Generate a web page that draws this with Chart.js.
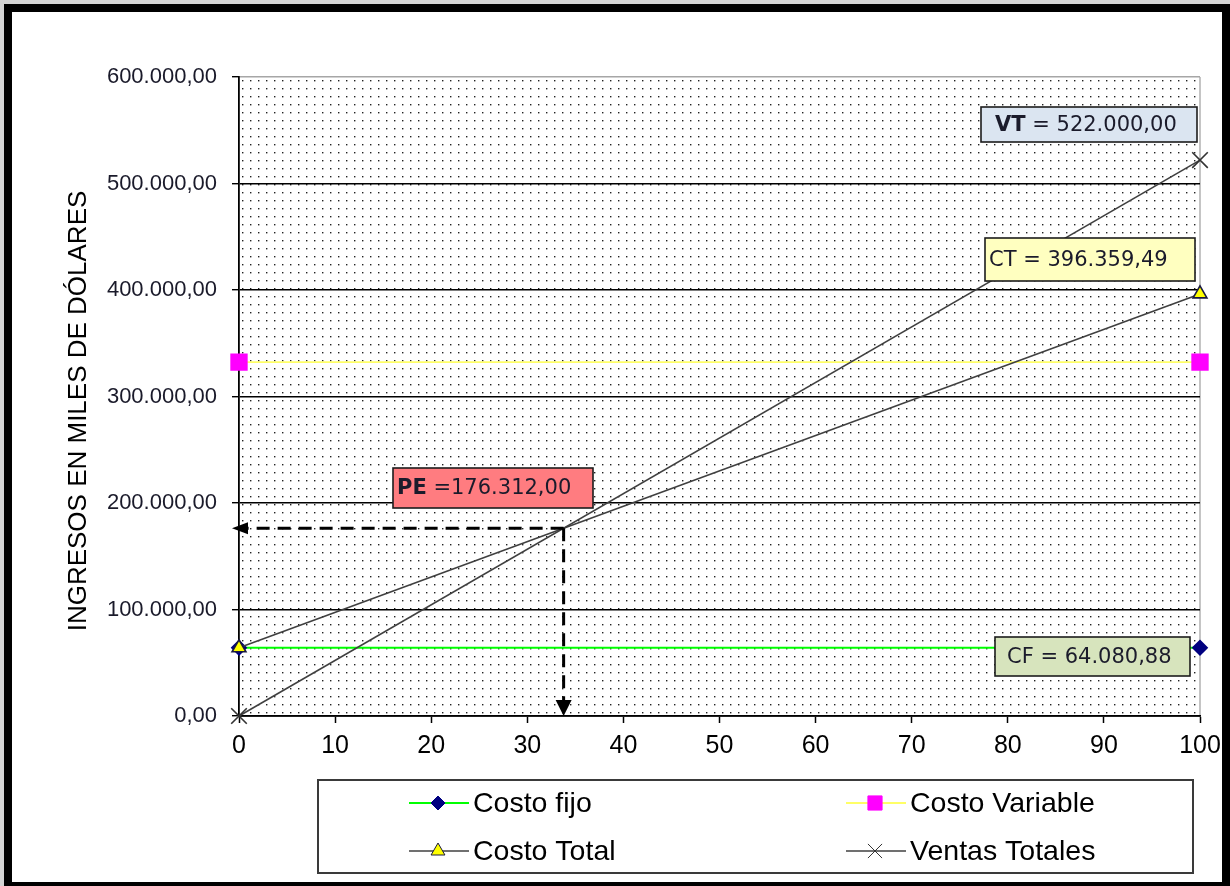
<!DOCTYPE html>
<html>
<head>
<meta charset="utf-8">
<script src="https://cdn.jsdelivr.net/npm/chart.js@4.4.1/dist/chart.umd.min.js"></script>
<style>
  html, body { margin: 0; padding: 0; background: #fff; }
  #wrap { position: relative; width: 1230px; height: 886px; }
</style>
</head>
<body>
<div id="wrap"><canvas id="pe" width="1230" height="886" style="width:1230px;height:886px"></canvas></div>
<script>
// Punto de equilibrio
const unidades = [0, 100]
const costoFijo = [64080.88, 64080.88]
const costoVariable = [332278.61, 332278.61]
const costoTotal = [64080.88, 396359.49]
const ventasTotales = [0, 522000]
const peUnidades = 33.78
const peValor = 176312
const xTicks = [0, 10, 20, 30, 40, 50, 60, 70, 80, 90, 100]
const yTicks = [0, 100000, 200000, 300000, 400000, 500000, 600000]
const yTitle = 'INGRESOS EN MILES DE DÓLARES'

// 600000 -> "600.000,00"
function fmt(v) {
  const [ent, dec] = Number(v).toFixed(2).split('.')
  return ent.replace(/\B(?=(\d{3})+(?!\d))/g, '.') + ',' + dec
}

function toPoints(ys) {
  return unidades.map((x, i) => ({ x, y: ys[i] }))
}

// marker drawing (legend uses the same shapes as the datasets)
function drawMarker(ctx, style, x, y, r, fill, stroke, lw) {
  ctx.save()
  ctx.beginPath()
  if (style === 'rectRot') {
    ctx.moveTo(x - r, y); ctx.lineTo(x, y - r); ctx.lineTo(x + r, y); ctx.lineTo(x, y + r); ctx.closePath()
  } else if (style === 'rect') {
    const s = r * Math.SQRT1_2
    ctx.rect(x - s, y - s, 2 * s, 2 * s)
  } else if (style === 'triangle') {
    for (let k = 0; k < 3; k++) {
      const a = k * 2 * Math.PI / 3
      const px = x + Math.sin(a) * r, py = y - Math.cos(a) * r
      k ? ctx.lineTo(px, py) : ctx.moveTo(px, py)
    }
    ctx.closePath()
  } else if (style === 'crossRot') {
    const s = r * Math.SQRT1_2
    ctx.moveTo(x - s, y - s); ctx.lineTo(x + s, y + s)
    ctx.moveTo(x + s, y - s); ctx.lineTo(x - s, y + s)
  }
  if (style !== 'crossRot') { ctx.fillStyle = fill; ctx.fill() }
  ctx.lineWidth = lw
  ctx.strokeStyle = stroke
  ctx.stroke()
  ctx.restore()
}

// dotted plot background
const tile = document.createElement('canvas')
tile.width = 8
tile.height = 8
const tctx = tile.getContext('2d')
tctx.fillStyle = '#222'
tctx.fillRect(3, 3, 1.4, 1.4)

const backgroundPlugin = {
  id: 'plotBackground',
  beforeDraw(chart) {
    const { ctx, chartArea: a } = chart
    ctx.save()
    ctx.fillStyle = '#fff'
    ctx.fillRect(0, 0, chart.width, chart.height)
    ctx.translate(a.left, a.top)
    ctx.fillStyle = ctx.createPattern(tile, 'repeat')
    ctx.fillRect(0, 0, a.right - a.left, a.bottom - a.top)
    ctx.restore()
    // right border of plot area
    ctx.save()
    ctx.strokeStyle = '#a6a6a6'
    ctx.lineWidth = 1.3
    ctx.beginPath()
    ctx.moveTo(a.right, a.top)
    ctx.lineTo(a.right, a.bottom)
    ctx.stroke()
    ctx.restore()
  },
}

function arrowHead(ctx, x, y, dir, len, half) {
  ctx.beginPath()
  if (dir === 'left') {
    ctx.moveTo(x, y); ctx.lineTo(x + len, y - half); ctx.lineTo(x + len, y + half)
  } else {
    ctx.moveTo(x, y); ctx.lineTo(x - half, y - len); ctx.lineTo(x + half, y - len)
  }
  ctx.closePath()
  ctx.fill()
}

const annotations = [
  { tag: 'VT', bold: true, sep: ' = ', value: ventasTotales[1], box: [981, 107, 216, 35], fill: '#dbe5f1', pad: 14 },
  { tag: 'CT', bold: false, sep: ' = ', value: costoTotal[1], box: [985, 238, 210, 43], fill: '#ffffc0', pad: 4 },
  { tag: 'PE', bold: true, sep: ' =', value: peValor, box: [393, 468, 200, 40], fill: '#ff7c80', pad: 4 },
  { tag: 'CF', bold: false, sep: ' = ', value: costoFijo[0], box: [995, 637, 195, 39], fill: '#d7e4bd', pad: 12 },
]

const overlayPlugin = {
  id: 'peOverlay',
  afterDatasetsDraw(chart) {
    const { ctx, scales: { x, y } } = chart
    const px = x.getPixelForValue(peUnidades)
    const py = y.getPixelForValue(peValor)
    const x0 = x.getPixelForValue(0)
    const y0 = y.getPixelForValue(0)

    // dashed guide lines of the break-even point
    ctx.save()
    ctx.strokeStyle = '#000'
    ctx.fillStyle = '#000'
    ctx.lineWidth = 3
    ctx.setLineDash([13, 8])
    ctx.beginPath()
    ctx.moveTo(px, py)
    ctx.lineTo(x0 + 8, py)
    ctx.moveTo(px, py)
    ctx.lineTo(px, y0 - 12)
    ctx.stroke()
    ctx.setLineDash([])
    arrowHead(ctx, x0 - 7, py, 'left', 16, 6)
    arrowHead(ctx, px, y0, 'down', 16, 8)
    ctx.restore()

    // value boxes
    annotations.forEach(an => {
      const [bx, by, bw, bh] = an.box
      ctx.save()
      ctx.fillStyle = an.fill
      ctx.fillRect(bx, by, bw, bh)
      ctx.strokeStyle = '#1c1c1c'
      ctx.lineWidth = 1.6
      ctx.strokeRect(bx, by, bw, bh)
      ctx.fillStyle = '#1b1b2b'
      ctx.textBaseline = 'middle'
      const ty = by + bh / 2 + 1
      ctx.font = (an.bold ? 'bold ' : '') + '21px "DejaVu Sans", sans-serif'
      ctx.fillText(an.tag, bx + an.pad, ty)
      const w = ctx.measureText(an.tag).width
      ctx.font = '21px "DejaVu Sans", sans-serif'
      ctx.fillText(an.sep + fmt(an.value), bx + an.pad + w, ty)
      ctx.restore()
    })
  },
  afterDraw(chart) {
    const { ctx } = chart

    // y axis title
    ctx.save()
    ctx.translate(79, 411)
    ctx.rotate(-Math.PI / 2)
    ctx.font = '26px "Liberation Sans", Arial, sans-serif'
    ctx.fillStyle = '#000'
    ctx.textAlign = 'center'
    ctx.textBaseline = 'middle'
    ctx.fillText(yTitle, 0, 0)
    ctx.restore()

    // legend
    const lx = 318, ly = 780, lw = 875, lh = 93
    ctx.save()
    ctx.strokeStyle = '#3a3a3a'
    ctx.lineWidth = 2
    ctx.strokeRect(lx, ly, lw, lh)
    const cols = [409, 846]
    const rows = [803, 851]
    chart.data.datasets.forEach((ds, i) => {
      const cx = cols[i % 2]
      const cy = rows[Math.floor(i / 2)]
      ctx.strokeStyle = ds.borderColor
      ctx.lineWidth = ds.borderWidth
      ctx.beginPath()
      ctx.moveTo(cx, cy)
      ctx.lineTo(cx + 60, cy)
      ctx.stroke()
      drawMarker(ctx, ds.pointStyle, cx + 29, cy, ds.legendRadius, ds.pointBackgroundColor, ds.pointBorderColor, 1)
      ctx.fillStyle = '#000'
      ctx.font = '28.5px "Liberation Sans", Arial, sans-serif'
      ctx.textBaseline = 'middle'
      ctx.fillText(ds.label, cx + 64, cy + 1)
    })
    ctx.restore()

    // outer frame
    ctx.save()
    ctx.fillStyle = '#d4d4d4'
    ctx.fillRect(0, 0, 4, chart.height)
    ctx.fillRect(0, 0, chart.width, 4)
    ctx.fillStyle = '#000'
    ctx.fillRect(4, 4, 8, chart.height)
    ctx.fillRect(4, 4, chart.width, 8)
    ctx.fillRect(1222, 4, 8, chart.height)
    ctx.fillRect(4, 882, chart.width, 4)
    ctx.restore()
  },
}

new Chart(document.getElementById('pe'), {
  type: 'line',
  data: {
    datasets: [
      {
        label: 'Costo fijo',
        data: toPoints(costoFijo),
        borderColor: '#00ff00',
        borderWidth: 1.8,
        pointStyle: 'rectRot',
        pointRadius: 7,
        legendRadius: 7,
        pointBackgroundColor: '#000080',
        pointBorderColor: '#000080',
        order: 3,
      },
      {
        label: 'Costo Variable',
        data: toPoints(costoVariable),
        borderColor: '#ffff66',
        borderWidth: 1.8,
        pointStyle: 'rect',
        pointRadius: 11,
        legendRadius: 10,
        pointBackgroundColor: '#ff00ff',
        pointBorderColor: '#ff00ff',
        order: 2,
      },
      {
        label: 'Costo Total',
        data: toPoints(costoTotal),
        borderColor: '#404040',
        borderWidth: 1.6,
        pointStyle: 'triangle',
        pointRadius: 8,
        legendRadius: 8,
        pointBackgroundColor: '#ffff00',
        pointBorderColor: '#1a1a40',
        order: 1,
      },
      {
        label: 'Ventas Totales',
        data: toPoints(ventasTotales),
        borderColor: '#404040',
        borderWidth: 1.6,
        pointStyle: 'crossRot',
        pointRadius: 11,
        legendRadius: 10,
        pointBackgroundColor: '#000',
        pointBorderColor: '#333',
        order: 0,
      },
    ],
  },
  options: {
    responsive: false,
    animation: false,
    events: [],
    layout: { padding: { top: 77, right: 30, left: 0, bottom: 0 } },
    elements: {
      line: { tension: 0 },
      point: { borderWidth: 1.2 },
    },
    datasets: { line: { clip: false } },
    plugins: {
      legend: { display: false },
      tooltip: { enabled: false },
    },
    scales: {
      x: {
        type: 'linear',
        min: 0,
        max: 100,
        afterFit(scale) { scale.height = 170 },
        afterBuildTicks(scale) { scale.ticks = xTicks.map(v => ({ value: v })) },
        grid: { drawOnChartArea: false, tickLength: 7, tickColor: '#000', tickWidth: 1.5 },
        border: { color: '#000', width: 1.8 },
        ticks: {
          padding: 8,
          color: '#000',
          autoSkip: false,
          maxRotation: 0,
          font: { family: '"Liberation Sans", Arial, sans-serif', size: 25 },
        },
      },
      y: {
        min: 0,
        max: 600000,
        afterFit(scale) { scale.width = 239 },
        afterBuildTicks(scale) { scale.ticks = yTicks.map(v => ({ value: v })) },
        grid: {
          color: c => (c.tick && c.tick.value === 600000 ? '#a6a6a6' : '#000'),
          lineWidth: 1.4,
          tickLength: 7,
          tickColor: '#000',
        },
        border: { color: '#000', width: 1.8 },
        ticks: {
          padding: 15,
          color: '#1a1a2a',
          callback: v => fmt(v),
          font: { family: '"Liberation Sans", Arial, sans-serif', size: 22 },
        },
      },
    },
  },
  plugins: [backgroundPlugin, overlayPlugin],
})
</script>
</body>
</html>
